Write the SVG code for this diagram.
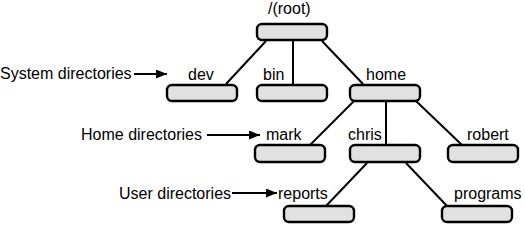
<svg xmlns="http://www.w3.org/2000/svg" width="525" height="225" viewBox="0 0 525 225">
<defs>
<marker id="ah" markerUnits="userSpaceOnUse" markerWidth="11" markerHeight="9" refX="11" refY="4.5" orient="auto">
<path d="M0,0 L11,4.5 L0,9 z" fill="#000"/>
</marker>
<style>
.box{fill:#e1e1e1;stroke:#000;stroke-width:2.4}
.ln{stroke:#000;stroke-width:2;fill:none}
text{font-family:"Liberation Sans",Arial,sans-serif;font-size:16px;fill:#000}
</style>
</defs>
<rect width="525" height="225" fill="#fff"/>
<g id="connectors">
<line class="ln" x1="266" y1="41" x2="226" y2="84"/>
<line class="ln" x1="293" y1="41" x2="293" y2="84"/>
<line class="ln" x1="322" y1="41" x2="363" y2="84"/>
<line class="ln" x1="354" y1="101" x2="310" y2="145"/>
<line class="ln" x1="386" y1="101" x2="386" y2="145"/>
<line class="ln" x1="416" y1="101" x2="462" y2="145"/>
<line class="ln" x1="367" y1="163" x2="326" y2="206"/>
<line class="ln" x1="406" y1="163" x2="447" y2="206"/>
<line class="ln" x1="134" y1="74" x2="167" y2="74" marker-end="url(#ah)"/>
<line class="ln" x1="207" y1="135" x2="260" y2="135" marker-end="url(#ah)"/>
<line class="ln" x1="232" y1="193" x2="277" y2="193" marker-end="url(#ah)"/>
</g>
<g id="root"><rect class="box" x="257" y="24" width="70" height="16" rx="5"/><text x="268" y="14">/(root)</text></g>
<g id="dev"><rect class="box" x="167" y="85" width="70" height="16" rx="5"/><text x="188" y="80">dev</text></g>
<g id="bin"><rect class="box" x="257" y="85" width="70" height="16" rx="5"/><text x="263" y="80">bin</text></g>
<g id="home"><rect class="box" x="350" y="85" width="70" height="16" rx="5"/><text x="366" y="80">home</text></g>
<g id="mark"><rect class="box" x="255" y="145" width="70" height="17" rx="5"/><text x="266" y="140">mark</text></g>
<g id="chris"><rect class="box" x="350" y="145" width="70" height="17" rx="5"/><text x="348" y="140">chris</text></g>
<g id="robert"><rect class="box" x="448" y="145" width="70" height="17" rx="5"/><text x="467" y="140">robert</text></g>
<g id="reports"><rect class="box" x="284" y="206" width="70" height="16" rx="5"/><text x="278" y="199">reports</text></g>
<g id="programs"><rect class="box" x="442" y="206" width="70" height="16" rx="5"/><text x="454" y="199">programs</text></g>
<g id="labels">
<text x="0" y="79">System directories</text>
<text x="81" y="140">Home directories</text>
<text x="119" y="199">User directories</text>
</g>
</svg>
